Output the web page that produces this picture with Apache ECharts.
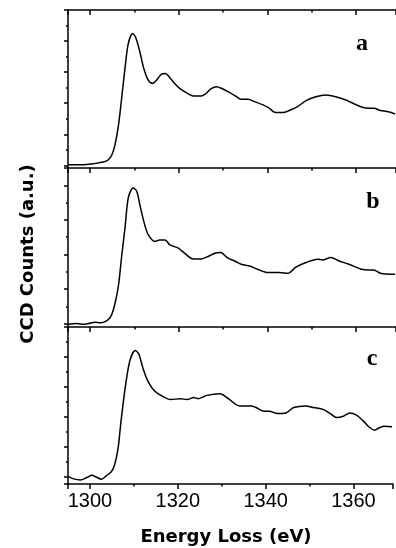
<!DOCTYPE html>
<html>
<head>
<meta charset="utf-8">
<script src="https://cdn.jsdelivr.net/npm/echarts@6/dist/echarts.min.js"></script>
<style>
html,body{margin:0;padding:0;background:#fff;}
#chart{width:396px;height:548px;}
</style>
</head>
<body>
<div id="chart"></div>
<script>
// ---- data ----
const energyA = [1295.1,1298.5,1300.7,1303.0,1304.1,1304.9,1305.6,1306.4,1307.1,1307.9,1308.6,1309.6,1310.3,1311.2,1312.1,1313.1,1314.1,1315.1,1316.1,1317.0,1317.8,1318.9,1320.2,1321.7,1323.2,1325.1,1326.2,1327.3,1328.5,1329.6,1331.5,1333.0,1334.1,1335.6,1337.1,1339.0,1340.4,1341.6,1343.4,1344.9,1346.8,1348.7,1350.9,1353.2,1355.4,1357.7,1359.6,1361.4,1362.9,1364.0,1365.5,1367.0,1368.8];
const countsA = [0.04,0.04,0.11,0.21,0.36,0.68,1.32,2.61,4.32,6.35,7.84,8.48,8.22,7.31,6.24,5.49,5.28,5.53,5.88,5.92,5.71,5.32,4.96,4.68,4.47,4.47,4.64,4.94,5.06,4.96,4.68,4.42,4.25,4.25,4.10,3.89,3.68,3.42,3.40,3.53,3.78,4.17,4.42,4.53,4.42,4.21,3.95,3.74,3.68,3.68,3.53,3.46,3.31];

const energyB = [1295.1,1297.0,1298.5,1299.6,1301.1,1302.2,1303.1,1304.1,1304.9,1305.6,1306.4,1307.1,1307.9,1308.6,1309.7,1310.5,1311.2,1312.2,1313.1,1314.6,1315.7,1316.9,1318.0,1319.9,1321.3,1323.2,1325.1,1326.6,1328.1,1329.4,1331.1,1332.6,1334.1,1336.0,1337.8,1340.1,1342.7,1344.6,1346.4,1348.7,1351.3,1352.4,1354.3,1356.2,1358.4,1361.0,1362.9,1364.0,1365.5,1368.8];
const countsB = [-0.04,0,-0.04,0,0.08,0.04,0.08,0.23,0.54,1.16,2.23,3.88,5.62,7.27,7.85,7.66,6.88,5.81,5.14,4.75,4.84,4.84,4.55,4.36,4.07,3.74,3.74,3.88,4.07,4.11,3.78,3.62,3.43,3.33,3.14,2.95,2.95,2.91,3.26,3.53,3.72,3.68,3.82,3.62,3.43,3.16,3.10,3.10,2.91,2.85];

const energyC = [1295.1,1296.3,1297.8,1299.3,1300.4,1301.5,1302.6,1303.7,1304.9,1305.6,1306.4,1307.1,1308.1,1309.1,1310.3,1311.1,1312.0,1313.1,1314.6,1316.5,1318.4,1320.6,1322.1,1323.6,1324.7,1326.6,1329.6,1331.5,1334.1,1336.7,1337.8,1339.7,1340.8,1342.7,1344.6,1346.4,1349.1,1350.9,1353.2,1354.7,1356.2,1357.7,1359.2,1360.7,1362.2,1363.7,1364.8,1366.0,1367.0,1368.8];
const countsC = [0.04,-0.11,-0.18,-0.02,0.13,0,-0.13,0.09,0.38,0.82,1.92,3.80,6.11,7.77,8.43,8.21,7.33,6.45,5.78,5.39,5.17,5.23,5.17,5.30,5.23,5.45,5.56,5.23,4.75,4.75,4.64,4.39,4.39,4.24,4.28,4.64,4.75,4.64,4.50,4.24,3.97,4.06,4.28,4.13,3.75,3.31,3.13,3.31,3.40,3.36];

const panelLabels = ['a', 'b', 'c'];
const xTitle = 'Energy Loss (eV)';
const yTitle = 'CCD Counts (a.u.)';
const xRange = [1295, 1369];
const yRanges = [[-0.17, 10], [-0.2, 9], [-0.45, 10]];

// ---- layout / styles ----
const grids = [
  {left: 68, top: 10, width: 329, height: 158},
  {left: 68, top: 168, width: 329, height: 159},
  {left: 68, top: 327, width: 329, height: 157}
];
const lineStyle = {color: '#000', width: 1.5};

const xAxes = [];
const yAxes = [];
const series = [];
const sets = [[energyA, countsA], [energyB, countsB], [energyC, countsC]];

grids.forEach((g, i) => {
  // major x axis (bottom)
  const majorIdx = xAxes.length;
  xAxes.push({
    type: 'value', gridIndex: i, position: 'bottom', min: xRange[0], max: xRange[1], splitNumber: 4,
    axisLine: {show: true, onZero: false, lineStyle: lineStyle},
    axisTick: {show: true, inside: false, length: 5, lineStyle: lineStyle},
    axisLabel: {show: i === 2, margin: 7, fontSize: 20, fontFamily: 'Liberation Sans', color: '#000',
      formatter: v => (Math.abs(v % 20) < 1e-6 ? String(v) : '')},
    splitLine: {show: false}
  });
  // minor x axis (bottom)
  xAxes.push({
    type: 'value', gridIndex: i, position: 'bottom', min: xRange[0], max: xRange[1], splitNumber: 7,
    axisLine: {show: false, onZero: false},
    axisTick: {show: true, inside: false, length: 2.5, lineStyle: lineStyle},
    axisLabel: {show: false}, splitLine: {show: false}
  });
  if (i === 0) {
    xAxes.push({
      type: 'value', gridIndex: 0, position: 'top', min: xRange[0], max: xRange[1], splitNumber: 4,
      axisLine: {show: true, onZero: false, lineStyle: lineStyle},
      axisTick: {show: true, inside: true, length: 5, lineStyle: lineStyle},
      axisLabel: {show: false}, splitLine: {show: false}
    });
    xAxes.push({
      type: 'value', gridIndex: 0, position: 'top', min: xRange[0], max: xRange[1], splitNumber: 7,
      axisLine: {show: false, onZero: false},
      axisTick: {show: true, inside: true, length: 2.5, lineStyle: lineStyle},
      axisLabel: {show: false}, splitLine: {show: false}
    });
  }
  const yMajorIdx = yAxes.length;
  const yr = yRanges[i];
  yAxes.push({
    type: 'value', gridIndex: i, position: 'left', min: yr[0], max: yr[1], splitNumber: 5,
    axisLine: {show: true, onZero: false, lineStyle: lineStyle},
    axisTick: {show: true, inside: false, length: 4, lineStyle: lineStyle},
    axisLabel: {show: false}, splitLine: {show: false}
  });
  yAxes.push({
    type: 'value', gridIndex: i, position: 'left', min: yr[0], max: yr[1],
    splitNumber: Math.round(yr[1] - yr[0]),
    axisLine: {show: false, onZero: false},
    axisTick: {show: true, inside: false, length: 2, lineStyle: lineStyle},
    axisLabel: {show: false}, splitLine: {show: false}
  });
  const [ex, cy] = sets[i];
  series.push({
    type: 'line', xAxisIndex: majorIdx, yAxisIndex: yMajorIdx,
    data: ex.map((e, k) => [e, cy[k]]),
    showSymbol: false, smooth: 0.3, clip: true,
    lineStyle: {color: '#000', width: 1.5}
  });
});

const labelPos = [[362, 44], [373, 202], [372, 359]];
const graphic = panelLabels.map((t, i) => ({
  type: 'text', x: labelPos[i][0], y: labelPos[i][1], silent: true,
  style: {text: t, font: 'bold 24px "Liberation Serif"', fill: '#000', align: 'center', verticalAlign: 'middle'}
}));
graphic.push({
  type: 'text', x: 226, y: 537, silent: true,
  style: {text: xTitle, font: 'bold 18px "DejaVu Sans"', fill: '#000', align: 'center', verticalAlign: 'middle'}
});
graphic.push({
  type: 'text', x: 28, y: 254, rotation: Math.PI / 2, silent: true,
  style: {text: yTitle, font: 'bold 18px "DejaVu Sans"', fill: '#000', align: 'center', verticalAlign: 'middle'}
});

const chart = echarts.init(document.getElementById('chart'), null, {renderer: 'canvas'});
chart.setOption({
  animation: false,
  backgroundColor: '#fff',
  grid: grids,
  xAxis: xAxes,
  yAxis: yAxes,
  series: series,
  graphic: graphic
});
</script>
</body>
</html>
